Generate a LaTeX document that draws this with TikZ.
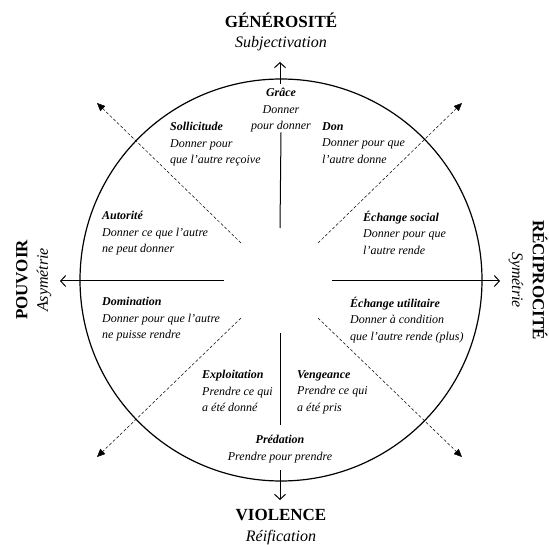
\documentclass[tikz,border=0pt]{standalone}
\usepackage{fontspec}
\setmainfont{Liberation Serif}
\usepackage{tikz}
\usetikzlibrary{arrows.meta}

\tikzset{
	axe/.style={line width=1pt, -{Straight Barb[length=5pt,width=11pt]}},
	trait/.style={line width=1pt},
	diag/.style={dash pattern=on 3pt off 2pt, line width=0.5pt, -{Triangle[length=8pt,width=7pt]}},
	pole/.style={font=\fontsize{17}{20}\selectfont\bfseries, inner sep=0},
	sous/.style={font=\fontsize{16}{19}\selectfont\itshape, inner sep=0},
	zone/.style={font=\fontsize{12}{16.5}\selectfont\itshape, align=left, anchor=north west, inner sep=0},
}

\begin{document}
\begin{tikzpicture}[x=1pt,y=-1pt]
		\useasboundingbox (0,0) rectangle (549,545);
		\draw[line width=1.2pt] (281,280) circle [radius=201pt];

		\node[pole] (gen) at (281,20) {GÉNÉROSITÉ};
		\node[sous] (subj) at (281,44) {Subjectivation};
		\node[pole] (vio) at (281,515) {VIOLENCE};
		\node[sous] (reif) at (281,538) {Réification};
		\node[pole, rotate=90] (pou) at (22,280) {POUVOIR};
		\node[sous, rotate=90] (asym) at (44,280) {Asymétrie};
		\node[pole, rotate=-90] (rec) at (540,280) {RÉCIPROCITÉ};
		\node[sous, rotate=-90] (sym) at (516,280) {Symétrie};

		\node[zone, anchor=north, align=center] (grace) at (281,88) {\textbf{Grâce}\\Donner\\pour donner};
		\node[zone] (sol) at (170,122) {\textbf{Sollicitude}\\Donner pour\\que l'autre reçoive};
		\node[zone] (don) at (322,122) {\textbf{Don}\\Donner pour que\\l'autre donne};
		\node[zone] (aut) at (102,211) {\textbf{Autorité}\\Donner ce que l'autre\\ne peut donner};
		\node[zone] (echs) at (363,211) {\textbf{Échange social}\\Donner pour que\\l'autre rende};
		\node[zone] (dom) at (102,297) {\textbf{Domination}\\Donner pour que l'autre\\ne puisse rendre};
		\node[zone] (echu) at (350,297) {\textbf{Échange utilitaire}\\Donner à condition\\que l'autre rende (plus)};
		\node[zone] (expl) at (202,370) {\textbf{Exploitation}\\Prendre ce qui\\a été donné};
		\node[zone] (veng) at (297,370) {\textbf{Vengeance}\\Prendre ce qui\\a été pris};
		\node[zone, anchor=north, align=center] (pred) at (280,435) {\textbf{Prédation}\\Prendre pour prendre};

		\coordinate (hautin) at (280,228);
		\coordinate (hautarc) at (280,84);
		\coordinate (hautpt) at (280,62);
		\coordinate (basin) at (280,333);
		\coordinate (basmil) at (280,425);
		\coordinate (basarc) at (280,470);
		\coordinate (baspt) at (280,500);
		\coordinate (gauchein) at (224,281);
		\coordinate (gauchept) at (60,281);
		\coordinate (droitein) at (332,281);
		\coordinate (droitept) at (500,281);

		\draw[trait] (hautin) -- (grace.south);
		\draw[axe] (hautarc) -- (hautpt);
		\draw[trait] (basin) -- (basmil);
		\draw[axe] (basarc) -- (baspt);
		\draw[axe] (gauchein) -- (gauchept);
		\draw[axe] (droitein) -- (droitept);

		\draw[diag] (241,243) -- (97,103);
		\draw[diag] (318,243) -- (462,103);
		\draw[diag] (241,318) -- (97,457);
		\draw[diag] (318,318) -- (462,457);
	\end{tikzpicture}
\end{document}
